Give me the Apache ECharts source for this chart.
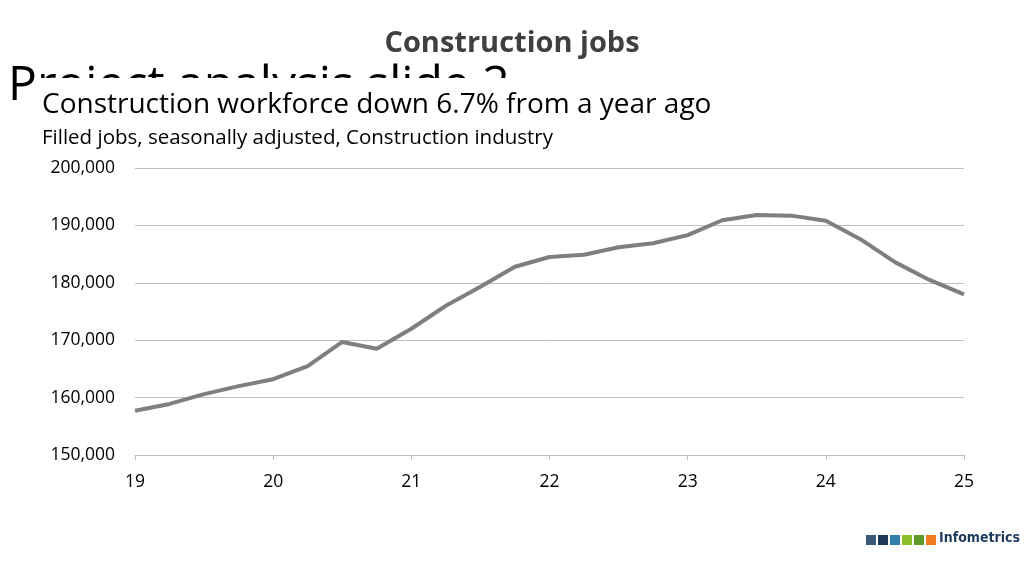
<!DOCTYPE html>
<html>
<head>
<meta charset="utf-8">
<script src="https://cdn.jsdelivr.net/npm/echarts@6/dist/echarts.min.js"></script>
<style>html,body{margin:0;padding:0;background:#fff}#chart{width:1024px;height:575px}</style>
</head>
<body>
<div id="chart"></div>
<script>
var quarters = [19, 19.25, 19.5, 19.75, 20, 20.25, 20.5, 20.75, 21, 21.25, 21.5, 21.75,
    22, 22.25, 22.5, 22.75, 23, 23.25, 23.5, 23.75, 24, 24.25, 24.5, 24.75, 25];
var jobs = [157700, 158900, 160600, 162000, 163200, 165500, 169700, 168500, 172000, 176000, 179300, 182800,
    184500, 184900, 186200, 186900, 188300, 190900, 191800, 191700, 190800, 187600, 183600, 180500, 178000];
var logoColors = ['#3a5a78', '#1f3b5c', '#2f7fa8', '#8cbd2a', '#5e9a2a', '#f07c22'];

var dom = document.getElementById('chart');
var myChart = echarts.init(dom);
var font = '"Open Sans", "Noto Sans", sans-serif';

var graphics = [
    {type: 'text', left: 8, top: 62, style: {text: 'Project analysis slide 2', font: '48px ' + font, fill: '#000'}},
    {type: 'rect', shape: {x: 37, y: 78, width: 980, height: 80}, style: {fill: '#fff'}},
    {type: 'text', left: 42, top: 91, style: {text: 'Construction workforce down 6.7% from a year ago', font: '28px ' + font, fill: '#000'}},
    {type: 'text', left: 42, top: 128, style: {text: 'Filled jobs, seasonally adjusted, Construction industry', font: '20.5px ' + font, fill: '#000'}},
    {type: 'text', left: 939, top: 531, style: {text: 'Infometrics', font: 'bold 14px "DejaVu Sans Condensed", "Liberation Sans Narrow", sans-serif', fill: '#1f3b5c'}}
];
logoColors.forEach(function (c, i) {
    graphics.push({type: 'rect', shape: {x: 866 + i * 12, y: 535, width: 10, height: 10}, style: {fill: c}});
});

var option = {
    title: {
        text: 'Construction jobs',
        left: 'center',
        top: 24,
        textStyle: {fontFamily: font, fontSize: 29, fontWeight: 'bold', color: '#404040'}
    },
    grid: {left: 135, right: 60, top: 168, bottom: 120},
    xAxis: {
        type: 'value',
        min: 19, max: 25, interval: 1,
        axisLine: {show: true, lineStyle: {color: '#bfbfbf'}},
        axisTick: {show: true, length: 5, lineStyle: {color: '#bfbfbf'}},
        splitLine: {show: false},
        axisLabel: {fontFamily: font, fontSize: 17.5, color: '#000', margin: 18}
    },
    yAxis: {
        type: 'value',
        min: 150000, max: 200000, interval: 10000,
        axisLine: {show: false},
        axisTick: {show: false},
        splitLine: {lineStyle: {color: '#bfbfbf'}},
        axisLabel: {
            fontFamily: font, fontSize: 17.5, color: '#000', margin: 20,
            formatter: function (v) { return v.toLocaleString('en-US'); }
        }
    },
    series: [{
        type: 'line',
        data: quarters.map(function (q, i) { return [q, jobs[i]]; }),
        showSymbol: false,
        lineStyle: {color: '#7f7f7f', width: 4},
        animation: false
    }],
    graphic: graphics
};
myChart.setOption(option);
</script>
</body>
</html>
